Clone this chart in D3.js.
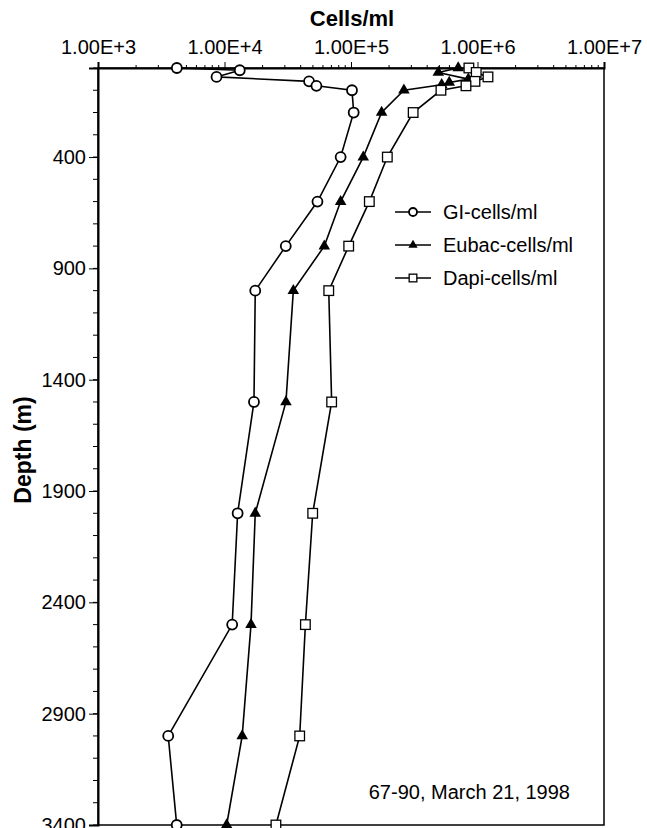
<!DOCTYPE html>
<html>
<head>
<meta charset="utf-8">
<script src="https://cdn.jsdelivr.net/npm/d3@7"></script>
<style>
  body { margin: 0; background: #fff; }
  svg { display: block; font-family: "Liberation Sans", Arial, sans-serif; }
</style>
</head>
<body>
<div class="chart-area"></div>
<script>
// depth (m) and cells/ml for each series
var giDepth = [0, 10, 40, 60, 80, 100, 200, 400, 600, 800, 1000, 1500, 2000, 2500, 3000, 3400];
var giCells = [4200, 13200, 8650, 46600, 53300, 101800, 105000, 82800, 54300, 30500, 17500, 17100, 12700, 11500, 3590, 4190];

var eubacDepth = [0, 20, 50, 65, 75, 100, 200, 400, 600, 800, 1000, 1500, 2000, 2500, 3000, 3400];
var eubacCells = [704000, 490000, 846000, 598000, 521000, 262000, 174600, 125000, 82800, 61500, 35000, 30600, 17500, 16200, 13800, 10400];

var dapiDepth = [0, 20, 40, 60, 80, 100, 200, 400, 600, 800, 1000, 1500, 2000, 2500, 3000, 3400];
var dapiCells = [855000, 977000, 1210000, 955000, 811000, 514000, 310000, 193700, 139600, 95900, 66700, 70300, 49800, 43600, 39300, 25500];

// akse-etiketter
var xTicks = [1e3, 1e4, 1e5, 1e6, 1e7];
var yTicks = [400, 900, 1400, 1900, 2400, 2900, 3400];
var seriesNames = ["GI-cells/ml", "Eubac-cells/ml", "Dapi-cells/ml"];
var note = "67-90, March 21, 1998";

var width = 647,
    height = 828;

// plot-område (top er reserveret i window, derfor andre navne)
var plotLeft = 98, plotRight = 604, plotTop = 68, plotBottom = 825;

var svg = d3.select('.chart-area')
    .append("svg")
    .attr("width", width)
    .attr("height", height);

// log scale for cells, linear for depth (0 at the top)
var x = d3.scaleLog().domain([1e3, 1e7]).range([plotLeft, plotRight]);
var y = d3.scaleLinear().domain([0, 3400]).range([plotTop, plotBottom]);

// minor ticks on the top axis (2..9 per decade)
var xMinor = [];
for (var e = 3; e < 7; e++) {
    for (var m = 2; m <= 9; m++) xMinor.push(m * Math.pow(10, e));
}
var yMinor = d3.range(0, 3401, 100);

// frame
svg.append("rect")
    .attr("x", plotLeft)
    .attr("y", plotTop)
    .attr("width", plotRight - plotLeft)
    .attr("height", plotBottom - plotTop)
    .attr("fill", "none")
    .attr("stroke", "#000")
    .attr("stroke-width", 1.5);

// top axis
var topAxis = svg.append("g")
    .attr("transform", "translate(0," + plotTop + ")")
    .call(d3.axisTop(x).tickValues(xTicks).tickSize(6).tickPadding(8)
        .tickFormat(function(d) { return "1.00E+" + Math.round(Math.log10(d)); }));
topAxis.append("g").selectAll("line")
    .data(xMinor)
    .join("line")
    .attr("x1", function(d) { return x(d); })
    .attr("x2", function(d) { return x(d); })
    .attr("y1", 0)
    .attr("y2", -3)
    .attr("stroke", "#000");

// left axis (ingen tusind-separator)
var leftAxis = svg.append("g")
    .attr("transform", "translate(" + plotLeft + ",0)")
    .call(d3.axisLeft(y).tickValues(yTicks).tickSize(9).tickPadding(3)
        .tickFormat(d3.format("d")));
leftAxis.append("g").selectAll("line")
    .data(yMinor)
    .join("line")
    .attr("x1", 0)
    .attr("x2", -5)
    .attr("y1", function(d) { return y(d); })
    .attr("y2", function(d) { return y(d); })
    .attr("stroke", "#000");

[topAxis, leftAxis].forEach(function(a) {
    a.select(".domain").attr("stroke-width", 2);
    a.selectAll("text")
        .attr("font-family", "'Liberation Sans', Arial, sans-serif")
        .attr("font-size", 20)
        .attr("fill", "#000");
});

// axis titles
svg.append("text")
    .attr("x", 352)
    .attr("y", 26)
    .attr("text-anchor", "middle")
    .attr("font-size", 22)
    .attr("font-weight", "bold")
    .text("Cells/ml");

svg.append("text")
    .attr("transform", "translate(31,450) rotate(-90)")
    .attr("text-anchor", "middle")
    .attr("font-size", 23)
    .attr("font-weight", "bold")
    .text("Depth (m)");

// symbols
var tri = d3.symbol().type(d3.symbolTriangle);

function drawMarker(g, kind, cx, cy, s) {
    if (kind === "circle") {
        g.append("circle").attr("cx", cx).attr("cy", cy).attr("r", 5 * s)
            .attr("fill", "#fff").attr("stroke", "#000").attr("stroke-width", 1.8);
    } else if (kind === "triangle") {
        g.append("path").attr("d", tri.size(58 * s * s)())
            .attr("transform", "translate(" + cx + "," + cy + ")")
            .attr("fill", "#000");
    } else {
        var h = 4.8 * s;
        g.append("rect").attr("x", cx - h).attr("y", cy - h)
            .attr("width", 2 * h).attr("height", 2 * h)
            .attr("fill", "#fff").attr("stroke", "#000").attr("stroke-width", 1.3);
    }
}

var series = [
    {depth: giDepth, cells: giCells, kind: "circle"},
    {depth: eubacDepth, cells: eubacCells, kind: "triangle"},
    {depth: dapiDepth, cells: dapiCells, kind: "square"}
];

var line = d3.line()
    .x(function(d) { return x(d[1]); })
    .y(function(d) { return y(d[0]); });

series.forEach(function(s) {
    var pts = d3.zip(s.depth, s.cells);
    svg.append("path")
        .attr("d", line(pts))
        .attr("fill", "none")
        .attr("stroke", "#000")
        .attr("stroke-width", 1.6);
    var g = svg.append("g");
    pts.forEach(function(p) { drawMarker(g, s.kind, x(p[1]), y(p[0]), 1); });
});

// legend
var legend = svg.append("g");
series.forEach(function(s, i) {
    var ly = 212 + i * 33;
    legend.append("line")
        .attr("x1", 395).attr("x2", 431)
        .attr("y1", ly).attr("y2", ly)
        .attr("stroke", "#000").attr("stroke-width", 1.6);
    drawMarker(legend, s.kind, 413, ly, 0.8);
    legend.append("text")
        .attr("x", 443)
        .attr("y", ly + 7)
        .attr("font-size", 20)
        .text(seriesNames[i]);
});

// note
svg.append("text")
    .attr("x", 570)
    .attr("y", 799)
    .attr("text-anchor", "end")
    .attr("font-size", 20)
    .text(note);
</script>
</body>
</html>
